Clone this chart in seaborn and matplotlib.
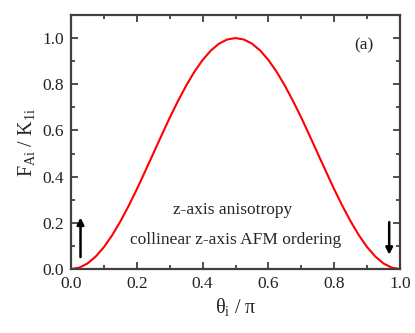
import numpy as np
import pandas as pd
import matplotlib
matplotlib.use("Agg")
import matplotlib.pyplot as plt
import seaborn as sns
from matplotlib.ticker import MultipleLocator

theta = [0.0, 0.025, 0.05, 0.075, 0.1, 0.125, 0.15, 0.175, 0.2, 0.225, 0.25,
         0.275, 0.3, 0.325, 0.35, 0.375, 0.4, 0.425, 0.45, 0.475, 0.5,
         0.525, 0.55, 0.575, 0.6, 0.625, 0.65, 0.675, 0.7, 0.725, 0.75,
         0.775, 0.8, 0.825, 0.85, 0.875, 0.9, 0.925, 0.95, 0.975, 1.0]
F = [0.0, 0.006, 0.024, 0.054, 0.095, 0.146, 0.206, 0.273, 0.345, 0.422, 0.5,
     0.578, 0.655, 0.727, 0.794, 0.854, 0.905, 0.946, 0.976, 0.994, 1.0,
     0.994, 0.976, 0.946, 0.905, 0.854, 0.794, 0.727, 0.655, 0.578, 0.5,
     0.422, 0.345, 0.273, 0.206, 0.146, 0.095, 0.054, 0.024, 0.006, 0.0]
xticks = [0.0, 0.2, 0.4, 0.6, 0.8, 1.0]
yticks = [0.0, 0.2, 0.4, 0.6, 0.8, 1.0]

sns.set_style("ticks")
plt.rcParams['font.family'] = ['Liberation Serif', 'DejaVu Serif']
plt.rcParams['mathtext.fontset'] = 'custom'
plt.rcParams['mathtext.rm'] = 'Liberation Serif'
plt.rcParams['mathtext.it'] = 'Liberation Serif'

df = pd.DataFrame({"theta": theta, "F": F})
fig = plt.figure(figsize=(4.15, 3.33), dpi=100)
ax = fig.add_axes([0.171, 0.192, 0.793, 0.763])
sns.lineplot(data=df, x="theta", y="F", color="#ff0000", lw=1.5, ax=ax)

ax.set_xlim(0, 1.0)
ax.set_ylim(0, 1.1)
ax.set_xticks(xticks)
ax.set_yticks(yticks)
ax.set_xticklabels([f"{t:.1f}" for t in xticks])
ax.set_yticklabels([f"{t:.1f}" for t in yticks])
ax.xaxis.set_minor_locator(MultipleLocator(0.1))
ax.yaxis.set_minor_locator(MultipleLocator(0.1))
spc = "#404040"
for s in ax.spines.values():
    s.set_color(spc)
    s.set_linewidth(1.6)
ax.tick_params(which="both", direction="in", top=True, right=True, color=spc,
               labelsize=12.5, width=1.3, labelcolor="#222222")
ax.tick_params(which="major", length=5, pad=5)
ax.tick_params(which="minor", length=3)

ax.set_xlabel(r"$\mathrm{\theta_{i}}$ / $\mathrm{\pi}$", fontsize=14.5, labelpad=3)
ax.set_ylabel(r"F$_{\mathrm{Ai}}$ / K$_{\mathrm{1i}}$", fontsize=14.5, labelpad=4)

ax.text(0.49, 0.255, "z-axis anisotropy", ha="center", va="center", fontsize=12.5)
ax.text(0.50, 0.125, "collinear z-axis AFM ordering", ha="center", va="center", fontsize=12.5)
ax.text(0.89, 0.97, "(a)", ha="center", va="center", fontsize=12.5)

ax.annotate("", xy=(0.029, 0.235), xytext=(0.029, 0.04),
            arrowprops=dict(arrowstyle="-|>", color="black", lw=1.8, mutation_scale=10))
ax.annotate("", xy=(0.967, 0.05), xytext=(0.967, 0.215),
            arrowprops=dict(arrowstyle="-|>", color="black", lw=1.8, mutation_scale=10))

fig.savefig("out.png", dpi=100)
